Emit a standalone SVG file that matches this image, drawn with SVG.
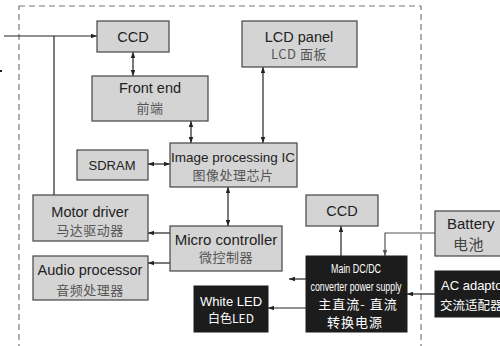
<svg xmlns="http://www.w3.org/2000/svg" width="500" height="346" viewBox="0 0 500 346">
<defs>
<marker id="ah" viewBox="0 0 8 6" refX="8" refY="3" markerWidth="6" markerHeight="4.5" orient="auto-start-reverse" markerUnits="userSpaceOnUse">
<path d="M0,0 L8,3 L0,6 z" fill="#222"/>
</marker>
<marker id="ahg" viewBox="0 0 8 6" refX="8" refY="3" markerWidth="6" markerHeight="4.5" orient="auto" markerUnits="userSpaceOnUse">
<path d="M0,0 L8,3 L0,6 z" fill="#555"/>
</marker>
<style>
.g{fill:#d4d4d4;stroke:#444;stroke-width:1.2}
.b{fill:#1c1c1c;stroke:#1c1c1c;stroke-width:1}
.en{font-family:"Liberation Sans","DejaVu Sans",sans-serif;font-size:14.5px;fill:#222;text-anchor:middle}
.cn{font-family:"Noto Sans CJK SC",sans-serif;font-size:13px;fill:#555;text-anchor:middle;letter-spacing:0.5px}
.w{fill:#fff}
.c{fill:none;stroke:#222;stroke-width:1.2}
</style>
</defs>
<rect x="19" y="6" width="402" height="350" fill="none" stroke="#777" stroke-width="1.2" stroke-dasharray="6,4"/>
<rect x="0" y="70" width="2" height="2" fill="#222"/>
<g id="connectors">
<polyline class="c" points="4,36 97,36" marker-end="url(#ah)"/>
<line class="c" x1="54" y1="36" x2="54" y2="195"/>
<line class="c" x1="133" y1="52" x2="133" y2="76" marker-start="url(#ah)" marker-end="url(#ah)"/>
<line class="c" x1="191" y1="121" x2="191" y2="143" marker-start="url(#ah)" marker-end="url(#ah)"/>
<line class="c" x1="263" y1="67" x2="263" y2="143" marker-start="url(#ah)" marker-end="url(#ah)"/>
<line class="c" x1="148" y1="164" x2="170" y2="164" marker-start="url(#ah)" marker-end="url(#ah)"/>
<line class="c" x1="228" y1="187" x2="228" y2="226" marker-start="url(#ah)" marker-end="url(#ah)"/>
<line class="c" x1="170" y1="233" x2="148" y2="233" marker-end="url(#ah)"/>
<line class="c" x1="170" y1="263" x2="148" y2="263" marker-end="url(#ah)"/>
<line class="c" x1="341" y1="256" x2="341" y2="226" marker-end="url(#ah)"/>
<line class="c" x1="306" y1="279" x2="289" y2="279" marker-end="url(#ah)"/>
<line class="c" x1="306" y1="308" x2="268" y2="308" marker-end="url(#ah)"/>
<line class="c" x1="435" y1="294" x2="407" y2="294" marker-end="url(#ah)"/>
<polyline points="435,233 385,233 385,256" fill="none" stroke="#555" stroke-width="1.2" marker-end="url(#ahg)"/>
</g>
<g id="ccd1"><rect class="g" x="97" y="21" width="72" height="31"/><text class="en" x="133" y="42">CCD</text></g>
<g id="frontend"><rect class="g" x="92" y="76" width="116" height="45"/><text class="en" x="150" y="93">Front end</text><text class="cn" x="150" y="113">前端</text></g>
<g id="lcd"><rect class="g" x="242" y="21" width="115" height="46"/><text class="en" x="299" y="42">LCD panel</text><text class="cn" x="299" y="59">LCD 面板</text></g>
<g id="sdram"><rect class="g" x="77" y="150" width="71" height="30"/><text class="en" x="112" y="170" style="font-size:13px">SDRAM</text></g>
<g id="ipic"><rect class="g" x="170" y="143" width="127" height="44"/><text class="en" x="233" y="162" style="font-size:13.5px">Image processing IC</text><text class="cn" x="233" y="180">图像处理芯片</text></g>
<g id="motor"><rect class="g" x="33" y="195" width="115" height="46"/><text class="en" x="90" y="217">Motor driver</text><text class="cn" x="90" y="235">马达驱动器</text></g>
<g id="micro"><rect class="g" x="170" y="226" width="112" height="45"/><text class="en" x="226" y="245" style="font-size:15px">Micro controller</text><text class="cn" x="226" y="262">微控制器</text></g>
<g id="audio"><rect class="g" x="33" y="256" width="115" height="44"/><text class="en" x="90" y="275">Audio processor</text><text class="cn" x="90" y="295">音频处理器</text></g>
<g id="whiteled"><rect class="b" x="194" y="286" width="74" height="46"/><text class="en w" x="231" y="306" style="font-size:13px">White LED</text><text class="en w" x="231" y="323" style="font-family:'Noto Sans CJK SC',sans-serif;font-size:12px">白色LED</text></g>
<g id="dcdc"><rect class="b" x="306" y="256" width="101" height="76"/>
<text class="en w" x="356" y="273" style="font-size:12px" textLength="50" lengthAdjust="spacingAndGlyphs">Main DC/DC</text>
<text class="en w" x="356" y="291" style="font-size:12px" textLength="91" lengthAdjust="spacingAndGlyphs">converter power supply</text>
<text class="cn w" x="358" y="309" style="font-size:13px;letter-spacing:1px">主直流- 直流</text>
<text class="cn w" x="355" y="327" style="font-size:13px;letter-spacing:1px">转换电源</text></g>
<g id="ccd2"><rect class="g" x="306" y="195" width="72" height="31"/><text class="en" x="342" y="216">CCD</text></g>
<g id="battery"><rect class="g" x="435" y="211" width="70" height="45"/><text class="en" x="447" y="229" style="text-anchor:start;font-size:15px">Battery</text><text class="cn" x="453" y="250" style="text-anchor:start;font-size:15px;fill:#444">电池</text></g>
<g id="acadaptor"><rect class="b" x="435" y="271" width="70" height="46"/><text class="en w" x="441" y="290" style="text-anchor:start;font-size:13px">AC adaptor</text><text class="cn w" x="440" y="310" style="text-anchor:start;font-size:12.5px;letter-spacing:0">交流适配器</text></g>
</svg>
